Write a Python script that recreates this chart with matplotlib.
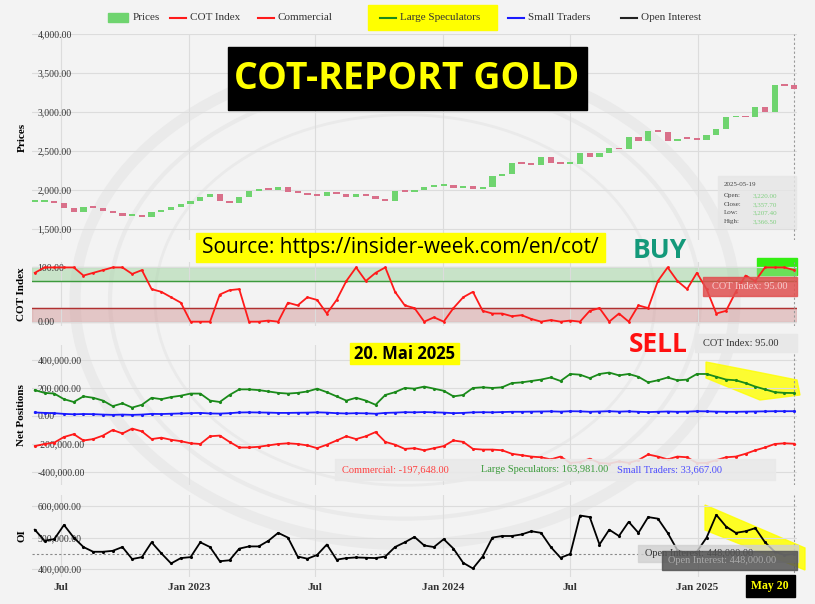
import numpy as np
import pandas as pd
import matplotlib
matplotlib.use('Agg')
import matplotlib.pyplot as plt
import matplotlib.dates as mdates
from matplotlib.patches import Polygon, Rectangle, Circle

# biweekly report dates
dates = pd.date_range("2022-05-24", "2025-05-20", freq="14D")

close = [1850, 1850, 1830, 1765, 1715, 1780, 1775, 1735, 1705, 1665,
         1675, 1655, 1715, 1745, 1785, 1815, 1860, 1910, 1945, 1855,
         1830, 1915, 1985, 2010, 2000, 2035, 1975, 1965, 1935, 1930,
         1980, 1945, 1915, 1945, 1930, 1880, 1860, 1985, 1975, 2000,
         2040, 2050, 2060, 2030, 2055, 2010, 2040, 2180, 2210, 2350,
         2330, 2320, 2420, 2350, 2330, 2340, 2470, 2430, 2470, 2540,
         2520, 2680, 2630, 2760, 2750, 2630, 2660, 2650, 2640, 2700,
         2780, 2930, 2940, 2930, 3060, 3000, 3350, 3340, 3290]
cot_index = [90, 100, 100, 100, 100, 85, 90, 95, 100, 100,
             88, 95, 60, 55, 45, 35, 0, 0, 0, 50,
             58, 60, 0, 0, 2, 0, 35, 30, 45, 40,
             15, 40, 75, 100, 75, 90, 100, 55, 30, 25,
             0, 8, 0, 25, 45, 55, 20, 15, 15, 10,
             12, 5, 0, 3, 0, 2, 0, 20, 25, 0,
             15, 0, 30, 25, 75, 100, 75, 60, 90, 60,
             15, 20, 55, 85, 75, 100, 100, 100, 95]
large_specs = [185, 165, 160, 120, 100, 140, 130, 110, 70, 90,
               60, 80, 130, 120, 135, 145, 160, 160, 110, 100,
               150, 190, 190, 185, 175, 165, 160, 165, 175, 195,
               170, 140, 110, 130, 110, 80, 150, 170, 200, 195,
               210, 195, 180, 140, 150, 200, 205, 200, 205, 235,
               240, 250, 260, 275, 250, 300, 295, 270, 300, 310,
               290, 300, 280, 240, 255, 275, 255, 260, 300, 300,
               280, 260, 255, 235, 210, 190, 170, 165, 164]
commercial = [-215, -200, -190, -150, -130, -175, -165, -140, -100, -125,
              -90, -110, -165, -155, -170, -180, -195, -200, -145, -140,
              -185, -225, -225, -220, -210, -200, -195, -200, -210, -230,
              -205, -175, -145, -165, -145, -115, -185, -205, -235, -230,
              -245, -230, -215, -175, -185, -235, -240, -240, -245, -270,
              -280, -290, -295, -310, -290, -335, -330, -305, -335, -340,
              -325, -335, -315, -275, -290, -310, -290, -295, -335, -335,
              -315, -295, -290, -270, -245, -225, -200, -195, -198]
small_traders = [25, 22, 20, 15, 12, 14, 13, 10, 8, 10,
                 8, 10, 15, 14, 16, 18, 20, 22, 18, 17,
                 20, 25, 26, 25, 24, 22, 22, 23, 24, 26,
                 24, 20, 18, 20, 19, 16, 22, 24, 27, 26,
                 28, 26, 24, 20, 22, 26, 27, 26, 28, 30,
                 30, 31, 32, 33, 31, 34, 33, 30, 32, 34,
                 31, 33, 30, 28, 30, 32, 30, 31, 34, 33,
                 31, 30, 30, 31, 32, 33, 34, 34, 34]
open_interest = [525, 490, 495, 540, 500, 470, 455, 455, 458, 470,
                 432, 438, 485, 450, 418, 435, 438, 485, 470, 425,
                 428, 465, 472, 472, 490, 515, 500, 440, 433, 445,
                 478, 430, 435, 437, 436, 435, 440, 470, 485, 502,
                 475, 470, 495, 465, 420, 402, 440, 500, 505, 505,
                 510, 520, 515, 470, 436, 448, 570, 565, 478, 525,
                 505, 550, 515, 565, 560, 515, 460, 450, 455, 500,
                 572, 535, 515, 520, 530, 485, 455, 445, 448]

W, H = 815, 604
BG = '#f3f3f3'
SERIF = 'Liberation Serif'
plt.rcParams['font.family'] = SERIF
plt.rcParams['font.size'] = 7


def add_ax(fig, top, bottom, left=32, right=797):
    ax = fig.add_axes([left / W, 1 - bottom / H, (right - left) / W, (bottom - top) / H])
    ax.set_facecolor('none')
    for s in ax.spines.values():
        s.set_visible(False)
    ax.grid(True, color='#dcdcdc', linewidth=0.8)
    ax.tick_params(length=0, labelsize=7, colors='#333333', pad=-2)
    ax.yaxis.set_major_formatter(matplotlib.ticker.FuncFormatter(lambda v, p: f"{v:,.2f}"))
    ax.set_xlim(pd.Timestamp("2022-05-20"), pd.Timestamp("2025-05-24"))
    return ax


def xlabel_fmt(v, p):
    d = mdates.num2date(v)
    return d.strftime('Jan %Y') if d.month == 1 else 'Jul'


fig = plt.figure(figsize=(W / 100, H / 100), dpi=100, facecolor=BG)

# faint seal watermark (behind everything)
for r, lw in [(330, 8), (295, 3), (250, 2)]:
    fig.patches.append(Circle((405 / W, 1 - 300 / H), r / W, transform=fig.transFigure,
                              fill=False, ec='#eaeaea', lw=lw, zorder=-5))

# prices
ax1 = add_ax(fig, 34, 240)
ax1.set_ylim(1360, 4000)
ax1.set_yticks([1500, 2000, 2500, 3000, 3500, 4000])
opens = [close[0]] + close[:-1]
cols = ['#6fd46f' if c >= o else '#d9708a' for o, c in zip(opens, close)]
bottoms = [min(o, c) for o, c in zip(opens, close)]
heights = [max(abs(c - o), 25) for o, c in zip(opens, close)]
ax1.bar(dates, heights, bottom=bottoms, width=9, color=cols, zorder=3)
ax1.set_ylabel('Prices', fontweight='bold', fontsize=8, labelpad=4)

# COT index
ax2 = add_ax(fig, 262, 326)
ax2.set_ylim(-8, 110)
ax2.set_yticks([0, 100])
ax2.axhspan(75, 100, color='#9fd49f', alpha=0.5, zorder=1)
ax2.axhline(75, color='#3c9a3c', lw=1)
ax2.axhspan(0, 25, color='#d49a9a', alpha=0.5, zorder=1)
ax2.axhline(25, color='#b03030', lw=1)
ax2.plot(dates, cot_index, color='#ff1a1a', lw=1.3, marker='.', ms=2, zorder=3)
ax2.set_ylabel('COT Index', fontweight='bold', fontsize=8, labelpad=4)

# net positions
ax3 = add_ax(fig, 345, 485)
ax3.set_ylim(-493, 507)
ax3.set_yticks([-400, -200, 0, 200, 400])
ax3.yaxis.set_major_formatter(matplotlib.ticker.FuncFormatter(lambda v, p: f"{v * 1000:,.2f}"))
ax3.plot(dates, large_specs, color='#1a8a1a', lw=1.3, marker='.', ms=2.5, zorder=3)
ax3.plot(dates, small_traders, color='#1a1aff', lw=1.3, marker='.', ms=2.5, zorder=3)
ax3.plot(dates, commercial, color='#ff1a1a', lw=1.3, marker='.', ms=2.5, zorder=3)
ax3.set_ylabel('Net Positions', fontweight='bold', fontsize=8, labelpad=4)

# open interest
ax4 = add_ax(fig, 495, 577)
ax4.set_ylim(375, 635)
ax4.set_yticks([400, 500, 600])
ax4.yaxis.set_major_formatter(matplotlib.ticker.FuncFormatter(lambda v, p: f"{v * 1000:,.2f}"))
ax4.plot(dates, open_interest, color='black', lw=1.3, marker='.', ms=2.5, zorder=3)
ax4.axhline(open_interest[-1], color='#888888', lw=0.8, ls=(0, (2, 2)))
ax4.set_ylabel('OI', fontweight='bold', fontsize=8, labelpad=4)

for ax in (ax1, ax2, ax3, ax4):
    ax.xaxis.set_major_locator(mdates.MonthLocator(bymonth=[1, 7]))
    ax.axvline(dates[-1], color='#999999', lw=0.8, ls=(0, (2, 2)))
    ax.tick_params(axis='y', direction='in', pad=-4)
    for lab in ax.get_yticklabels():
        lab.set_horizontalalignment('left')
    if ax is not ax4:
        ax.set_xticklabels([])
ax4.xaxis.set_major_formatter(matplotlib.ticker.FuncFormatter(xlabel_fmt))
ax4.tick_params(axis='x', labelsize=8, pad=4)
for lab in ax4.get_xticklabels():
    lab.set_fontweight('bold')


def ftext(x, y, s, **kw):
    fig.text(x / W, 1 - y / H, s, **kw)


def frect(x0, y0, x1, y1, **kw):
    fig.patches.append(Rectangle((x0 / W, 1 - y1 / H), (x1 - x0) / W, (y1 - y0) / H,
                                 transform=fig.transFigure, **kw))


def fpoly(pts, **kw):
    fig.patches.append(Polygon([(x / W, 1 - y / H) for x, y in pts], transform=fig.transFigure, **kw))


# legend
frect(368, 5, 497, 30, color='#ffff00', zorder=5)
legend = [('Prices', '#6fd46f', 133), ('COT Index', '#ff1a1a', 190), ('Commercial', '#ff1a1a', 278),
          ('Large Speculators', '#1a8a1a', 400), ('Small Traders', '#1a1aff', 528),
          ('Open Interest', '#222222', 641)]
for name, c, x in legend:
    if name == 'Prices':
        frect(x - 25, 13, x - 5, 22, color=c, zorder=6)
    else:
        fig.lines.append(plt.Line2D([(x - 20) / W, (x - 4) / W], [1 - 17.5 / H] * 2, color=c, lw=1.5,
                                    transform=fig.transFigure, zorder=6))
    ftext(x, 17.5, name, fontsize=8, va='center', color='#333333', zorder=6)

# title box
frect(228, 47, 587, 110, color='black', zorder=5)
ftext(407, 79, 'COT-REPORT GOLD', family='Open Sans', fontweight='bold', fontsize=27,
      color='#ffff00', ha='center', va='center', zorder=6)
frect(196, 233, 605, 262, color='#ffff00', zorder=5)
ftext(400, 248, 'Source: https://insider-week.com/en/cot/', family='Open Sans', fontsize=15,
      color='black', ha='center', va='center', zorder=6)
ftext(660, 250, 'BUY', family='Open Sans', fontweight='bold', fontsize=19, color='#13997a',
      ha='center', va='center', zorder=6)
ftext(658, 345, 'SELL', family='Open Sans', fontweight='bold', fontsize=19, color='#ff1010',
      ha='center', va='center', zorder=6)
frect(350, 343, 459, 364, color='#ffff00', zorder=5)
ftext(404, 354, '20. Mai 2025', family='Open Sans', fontweight='bold', fontsize=12,
      color='black', ha='center', va='center', zorder=6)

# tooltip
frect(718, 176, 796, 228, color='#e6e6e6', alpha=0.8, zorder=5)
ftext(724, 184, '2025-05-19', fontsize=5, color='#444444', va='center', zorder=6)
for i, (k, v) in enumerate([('Open:', '3,220.00'), ('Close:', '3,357.70'),
                            ('Low:', '3,207.40'), ('High:', '3,366.50')]):
    ftext(724, 196 + i * 8.5, k, fontsize=5, color='#444444', va='center', zorder=6)
    ftext(753, 196 + i * 8.5, v, fontsize=5, color='#7fcf7f', va='center', zorder=6)

# COT boxes
frect(757, 258, 797, 275, color='#33ee11', zorder=-1)
frect(703, 277, 797, 296, color='#e05050', alpha=0.85, zorder=5)
ftext(750, 286.5, 'COT Index: 95.00', fontsize=7.5, color='#f6cccc', ha='center', va='center', zorder=6)
frect(695, 334, 797, 352, color='#e8e8e8', zorder=5)
ftext(741, 343, 'COT Index: 95.00', fontsize=7.5, color='#333333', ha='center', va='center', zorder=6)

# net position values
frect(335, 459, 775, 480, color='#e9e9e9', alpha=0.9, zorder=5)
ftext(342, 469.5, 'Commercial: -197,648.00', fontsize=7.5, color='#ff4040', va='center', zorder=6)
ftext(481, 469.5, 'Large Speculators: 163,981.00', fontsize=7.5, color='#3a9a3a', va='center', zorder=6)
ftext(617, 469.5, 'Small Traders: 33,667.00', fontsize=7.5, color='#4a4aff', va='center', zorder=6)

# highlights behind the lines
fpoly([(706, 362), (757, 372), (797, 380), (800, 395), (760, 400), (706, 378)],
      color='#ffff00', alpha=0.8, zorder=-1)
fpoly([(705, 505), (805, 548), (805, 570), (705, 530)], color='#ffff00', alpha=0.85, zorder=-1)

# OI label (two stacked tooltips as in the source)
frect(638, 545, 798, 562, color='#d0d0d0', alpha=0.8, zorder=5)
ftext(645, 553.5, 'Open Interest: 448,000.00', fontsize=7.5, color='#333333', va='center', zorder=6)
frect(662, 551, 797, 570, color='#555555', alpha=0.85, zorder=7)
ftext(668, 560.5, 'Open Interest: 448,000.00', fontsize=7.5, color='#aaaaaa', va='center', zorder=8)
frect(746, 575, 795, 597, color='black', zorder=5)
ftext(770, 586, 'May 20', fontsize=8.5, fontweight='bold', color='#ffff00', ha='center', va='center', zorder=6)

fig.savefig('out.png', dpi=100, facecolor=BG)
